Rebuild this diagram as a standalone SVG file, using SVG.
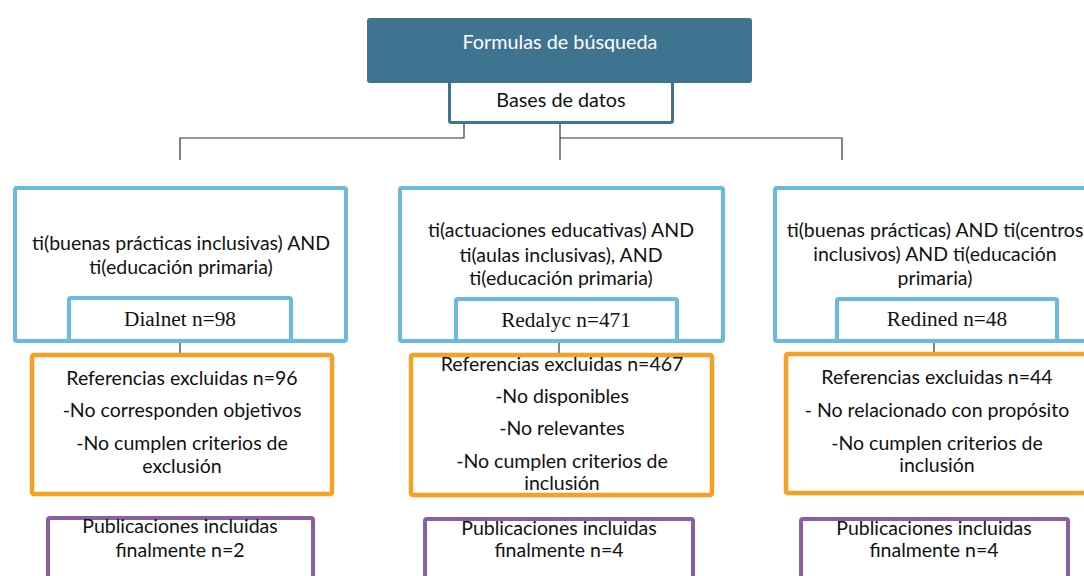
<svg xmlns="http://www.w3.org/2000/svg" width="1084" height="576" viewBox="0 0 1084 576">
<style>
.t{font-family:Lato,"Open Sans",sans-serif;font-size:19.5px;fill:#111;text-anchor:middle}
.s{font-family:"Liberation Serif","Times New Roman",serif;font-size:21.3px;fill:#111;text-anchor:middle}
.blue{fill:#fff;stroke:#6BB9DE;stroke-width:4}
.org{fill:#fff;stroke:#F6A024;stroke-width:4.5}
.pur{fill:#fff;stroke:#8B5EA0;stroke-width:4}
.ln{fill:none;stroke:#333;stroke-width:1.2}
</style>
<rect width="1084" height="576" fill="#fff"/>
<g id="connectors">
<path class="ln" d="M464 124V138H180V160"/>
<path class="ln" d="M560 124V160"/>
<path class="ln" d="M560 138H842V160"/>
<path class="ln" d="M180 343V353"/>
<path class="ln" d="M559 343V353"/>
<path class="ln" d="M934 343V353"/>
</g>
<g id="formulas">
<rect x="367" y="18" width="385" height="65" rx="3" fill="#3F7490"/>
<text class="t" x="560" y="49" style="fill:#fff;font-size:19.8px">Formulas de búsqueda</text>
</g>
<g id="bases">
<rect x="449.5" y="81.5" width="223" height="41" rx="2" fill="#fff" stroke="#3F7490" stroke-width="3"/>
<text class="t" x="561" y="107" style="font-size:19.8px">Bases de datos</text>
</g>
<g id="q1">
<rect class="blue" x="15" y="188" width="331" height="153" rx="2"/>
<text class="t" x="181" y="250">ti(buenas prácticas inclusivas) AND</text>
<text class="t" x="181" y="274">ti(educación primaria)</text>
</g>
<g id="dialnet">
<rect class="blue" x="69" y="298" width="222" height="43" rx="2"/>
<text class="s" x="180" y="326">Dialnet n=98</text>
</g>
<g id="q2">
<rect class="blue" x="400" y="188" width="323" height="153" rx="2"/>
<text class="t" x="561" y="237">ti(actuaciones educativas) AND</text>
<text class="t" x="561" y="262">ti(aulas inclusivas), AND</text>
<text class="t" x="561" y="285">ti(educación primaria)</text>
</g>
<g id="redalyc">
<rect class="blue" x="456" y="299" width="221" height="42" rx="2"/>
<text class="s" x="566" y="327">Redalyc n=471</text>
</g>
<g id="q3">
<rect class="blue" x="775" y="188" width="320" height="153" rx="2"/>
<text class="t" x="935" y="237">ti(buenas prácticas) AND ti(centros</text>
<text class="t" x="935" y="261">inclusivos) AND ti(educación</text>
<text class="t" x="935" y="285">primaria)</text>
</g>
<g id="redined">
<rect class="blue" x="837" y="299" width="220" height="42" rx="2"/>
<text class="s" x="947" y="326">Redined n=48</text>
</g>
<g id="ex1">
<rect class="org" x="32" y="355" width="300" height="139" rx="2"/>
<text class="t" x="182" y="385">Referencias excluidas n=96</text>
<text class="t" x="182" y="417">-No corresponden objetivos</text>
<text class="t" x="182" y="450">-No cumplen criterios de</text>
<text class="t" x="182" y="473">exclusión</text>
</g>
<g id="ex2">
<rect class="org" x="411" y="355" width="301" height="140" rx="2"/>
<text class="t" x="562" y="371">Referencias excluidas n=467</text>
<text class="t" x="562" y="403">-No disponibles</text>
<text class="t" x="562" y="435">-No relevantes</text>
<text class="t" x="562" y="468">-No cumplen criterios de</text>
<text class="t" x="562" y="490">inclusión</text>
</g>
<g id="ex3">
<rect class="org" x="786" y="354" width="310" height="139" rx="2"/>
<text class="t" x="937" y="384">Referencias excluidas n=44</text>
<text class="t" x="937" y="417">- No relacionado con propósito</text>
<text class="t" x="937" y="450">-No cumplen criterios de</text>
<text class="t" x="937" y="472">inclusión</text>
</g>
<g id="pub1">
<rect class="pur" x="48" y="518" width="265" height="70" rx="2"/>
<text class="t" x="180" y="533">Publicaciones incluidas</text>
<text class="t" x="180" y="557">finalmente n=2</text>
</g>
<g id="pub2">
<rect class="pur" x="425" y="519" width="268" height="70" rx="2"/>
<text class="t" x="559" y="535">Publicaciones incluidas</text>
<text class="t" x="559" y="557">finalmente n=4</text>
</g>
<g id="pub3">
<rect class="pur" x="801" y="519" width="267" height="70" rx="2"/>
<text class="t" x="934" y="535">Publicaciones incluidas</text>
<text class="t" x="934" y="557">finalmente n=4</text>
</g>
</svg>
